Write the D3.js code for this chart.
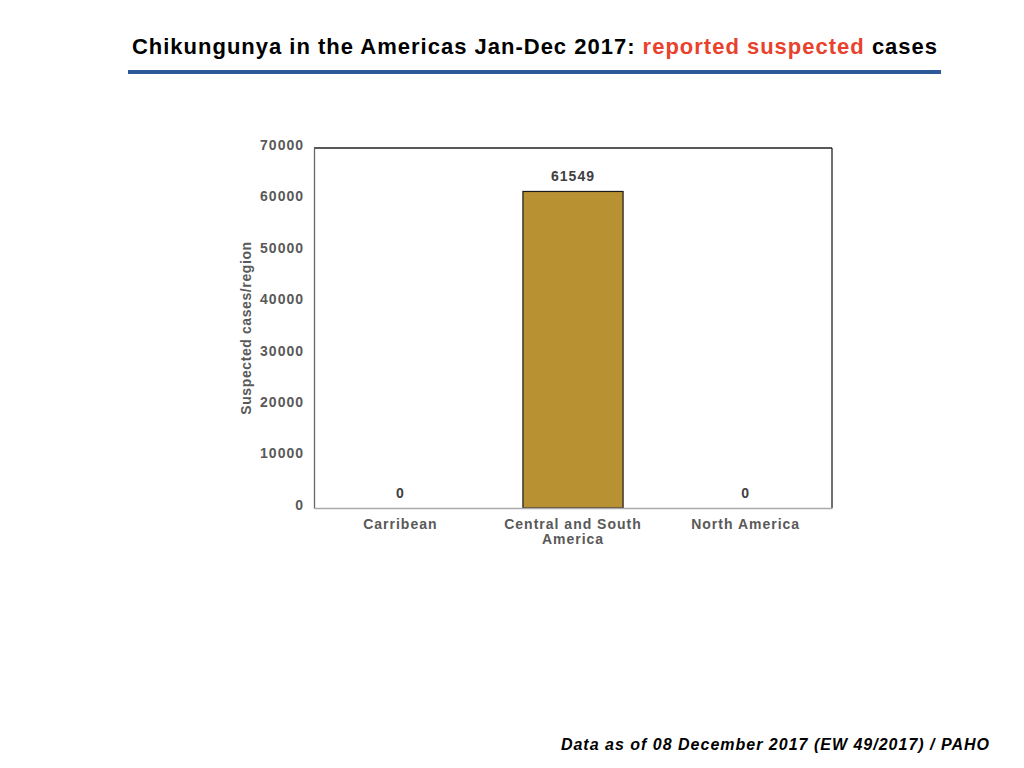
<!DOCTYPE html>
<html lang="en">
<head>
  <meta charset="UTF-8" />
  <title>Chikungunya in the Americas 2017</title>
  <style>
    body { margin: 0; background: #fff; }
    svg { display: block; font-family: "Liberation Sans", Arial, sans-serif; }
    .tick text { fill: #595959; font-size: 14px; font-weight: bold; letter-spacing: 1px; }
    .label { fill: #404040; font-size: 14px; font-weight: bold; letter-spacing: 1px; }
  </style>
  <script src="https://d3js.org/d3.v7.min.js"></script>
</head>
<body>
  <svg width="1024" height="768"></svg>
  <script>
    const regions = ['Carribean', 'Central and South America', 'North America'];
    const cases = [0, 61549, 0];
    const yTicks = [0, 10000, 20000, 30000, 40000, 50000, 60000, 70000];

    const svg = d3.select('svg');
    const margin = { top: 148, right: 192, bottom: 260, left: 314 };
    const width = 1024 - margin.left - margin.right;
    const height = 768 - margin.top - margin.bottom;

    // title + rule
    const title = svg.append('text')
      .attr('x', 535)
      .attr('y', 54)
      .attr('text-anchor', 'middle')
      .attr('font-size', '22px')
      .attr('font-weight', 'bold')
      .attr('letter-spacing', '1px')
      .attr('fill', '#000');
    title.append('tspan').text('Chikungunya in the Americas Jan-Dec 2017: ');
    title.append('tspan').attr('fill', '#e8412c').text('reported suspected');
    title.append('tspan').text(' cases');

    svg.append('rect')
      .attr('x', 128)
      .attr('y', 70)
      .attr('width', 813)
      .attr('height', 4)
      .attr('fill', '#2d5a98');

    svg.append('text')
      .attr('x', 990)
      .attr('y', 750)
      .attr('text-anchor', 'end')
      .attr('font-size', '16px')
      .attr('font-weight', 'bold')
      .attr('font-style', 'italic')
      .attr('letter-spacing', '1px')
      .attr('fill', '#000')
      .text('Data as of 08 December 2017 (EW 49/2017) / PAHO');

    const g = svg.append('g')
      .attr('transform', `translate(${margin.left},${margin.top})`);

    const x = d3.scaleBand()
      .domain(regions)
      .range([0, width])
      .paddingInner(0.42)
      .paddingOuter(0.21);

    const y = d3.scaleLinear()
      .domain([0, 70000])
      .range([height, 0]);

    // frame (top/right dark, left/bottom gray axes)
    g.append('line')
      .attr('x1', 0).attr('x2', width)
      .attr('y1', 0).attr('y2', 0)
      .attr('stroke', '#222').attr('stroke-width', 1.3);
    g.append('line')
      .attr('x1', width).attr('x2', width)
      .attr('y1', 0).attr('y2', height)
      .attr('stroke', '#222').attr('stroke-width', 1.3);

    g.selectAll('.bar')
      .data(regions)
      .enter()
      .append('rect')
      .attr('class', 'bar')
      .attr('x', (d) => x(d))
      .attr('width', x.bandwidth())
      .attr('y', (d, i) => y(cases[i]))
      .attr('height', (d, i) => height - y(cases[i]))
      .attr('fill', '#b89232')
      .attr('stroke', '#1a1a1a')
      .attr('stroke-width', 1.2);

    g.selectAll('.label')
      .data(regions)
      .enter()
      .append('text')
      .attr('class', 'label')
      .attr('x', (d) => x(d) + x.bandwidth() / 2)
      .attr('y', (d, i) => y(cases[i]) - 10)
      .attr('text-anchor', 'middle')
      .text((d, i) => cases[i]);

    const yAxis = g.append('g')
      .call(d3.axisLeft(y).tickValues(yTicks).tickSize(0).tickPadding(10).tickFormat(d3.format('d')));
    yAxis.select('.domain').attr('stroke', '#666').attr('stroke-width', 1.3);
    yAxis.selectAll('.tick text').attr('dy', '0.1em');

    const xAxis = g.append('g')
      .attr('transform', `translate(0,${height})`)
      .call(d3.axisBottom(x).tickSize(0).tickPadding(11));
    xAxis.select('.domain').attr('stroke', '#aaa').attr('stroke-width', 1.5);
    xAxis.selectAll('.tick text')
      .attr('font-size', '14.5px')
      .attr('letter-spacing', '0.6px')
      .each(function (d) {
        if (d === 'Central and South America') {
          const t = d3.select(this);
          t.text(null);
          t.append('tspan').attr('x', 0).attr('dy', '0.71em').text('Central and South');
          t.append('tspan').attr('x', 0).attr('dy', '1.1em').text('America');
        }
      });

    svg.append('text')
      .attr('transform', `translate(251,${margin.top + height / 2}) rotate(-90)`)
      .attr('text-anchor', 'middle')
      .attr('font-size', '14px')
      .attr('font-weight', 'bold')
      .attr('letter-spacing', '0.6px')
      .attr('fill', '#595959')
      .text('Suspected cases/region');
  </script>
</body>
</html>
